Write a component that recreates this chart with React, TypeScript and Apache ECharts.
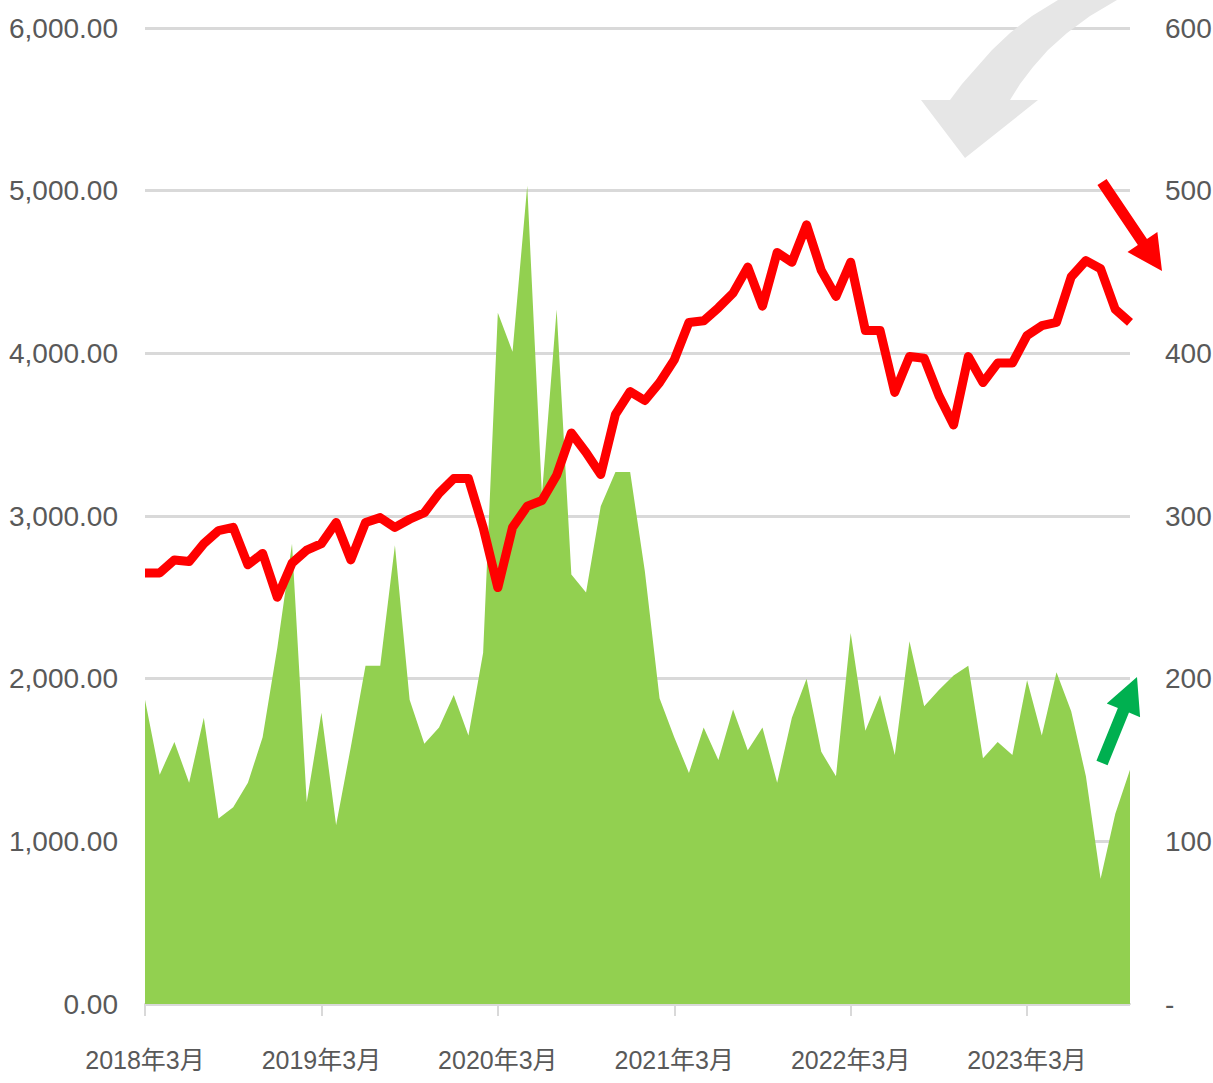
import React, { useEffect, useRef } from "react";
import * as echarts from "echarts";

// Monthly categories: 2018年3月 .. 2023年10月
const startYear = 2018;
const startMonth = 3;
const monthCount = 68;
const categories: string[] = [];
for (let i = 0; i < monthCount; i++) {
  const m = startMonth - 1 + i;
  categories.push(`${startYear + Math.floor(m / 12)}年${(m % 12) + 1}月`);
}

// Red line (left axis)
const redValues = [
  2650, 2650, 2730, 2720, 2830, 2910, 2930, 2700, 2770, 2500,
  2710, 2790, 2830, 2960, 2730, 2960, 2990, 2930, 2980, 3020,
  3140, 3230, 3230, 2930, 2560, 2930, 3060, 3095, 3250, 3510,
  3390, 3255, 3625, 3765, 3710, 3820, 3960, 4190, 4200, 4280,
  4370, 4530, 4290, 4620, 4560, 4790, 4510, 4350, 4560, 4140,
  4140, 3760, 3980, 3970, 3740, 3560, 3980, 3820, 3940, 3940,
  4110, 4170, 4190, 4470, 4570, 4520, 4270, 4190,
];

// Green area (right axis)
const greenValues = [
  187, 141, 161, 136, 176, 114, 121, 136, 164, 219,
  283, 124, 179, 110, 158, 208, 208, 282, 187, 160,
  170, 190, 165, 216, 425, 401, 503, 313, 427, 264,
  253, 306, 327, 327, 266, 188, 164, 142, 170, 150,
  181, 156, 170, 136, 176, 200, 155, 140, 228, 168,
  190, 153, 223, 183, 193, 202, 208, 151, 161, 153,
  199, 165, 204, 180, 140, 77, 117, 144,
];

const leftTicks = { min: 0, max: 6000, interval: 1000 };
const rightTicks = { min: 0, max: 600, interval: 100 };

const FONT = "'Liberation Sans', 'Noto Sans CJK SC', sans-serif";

function arrowPoints(
  tail: [number, number],
  tip: [number, number],
  shaftHalf: number,
  headLen: number,
  headHalf: number
): number[][] {
  const dx = tip[0] - tail[0];
  const dy = tip[1] - tail[1];
  const len = Math.sqrt(dx * dx + dy * dy);
  const ux = dx / len, uy = dy / len;
  const nx = -uy, ny = ux;
  const bx = tip[0] - ux * headLen, by = tip[1] - uy * headLen;
  return [
    [tail[0] + nx * shaftHalf, tail[1] + ny * shaftHalf],
    [bx + nx * shaftHalf, by + ny * shaftHalf],
    [bx + nx * headHalf, by + ny * headHalf],
    [tip[0], tip[1]],
    [bx - nx * headHalf, by - ny * headHalf],
    [bx - nx * shaftHalf, by - ny * shaftHalf],
    [tail[0] - nx * shaftHalf, tail[1] - ny * shaftHalf],
  ];
}

export default function App() {
  const ref = useRef<HTMLDivElement>(null);
  useEffect(() => {
    document.body.style.margin = "0";
    const chart = echarts.init(ref.current!, null, { renderer: "svg" });
    chart.setOption({
      animation: false,
      backgroundColor: "#ffffff",
      grid: {
        left: 145,
        right: 83,
        top: 28,
        bottom: 79,
        containLabel: false,
        outerBoundsMode: "none",
      },
      xAxis: {
        type: "category",
        data: categories,
        boundaryGap: false,
        axisLine: { show: true, lineStyle: { color: "#d9d9d9", width: 2 } },
        axisTick: { show: true, interval: 11, length: 12, lineStyle: { color: "#d9d9d9", width: 2 } },
        axisLabel: {
          interval: 11,
          color: "#595959",
          fontSize: 25,
          fontFamily: FONT,
          margin: 43,
        },
        splitLine: { show: false },
      },
      yAxis: [
        {
          type: "value",
          ...leftTicks,
          position: "left",
          axisLine: { show: false },
          axisTick: { show: false },
          axisLabel: {
            color: "#595959",
            fontSize: 28,
            fontFamily: FONT,
            margin: 27,
            formatter: (v: number) =>
              v.toLocaleString("en-US", { minimumFractionDigits: 2, maximumFractionDigits: 2 }),
          },
          splitLine: { show: true, lineStyle: { color: "#d9d9d9", width: 3 } },
        },
        {
          type: "value",
          ...rightTicks,
          position: "right",
          axisLine: { show: false },
          axisTick: { show: false },
          axisLabel: {
            color: "#595959",
            fontSize: 28,
            fontFamily: FONT,
            margin: 35,
            formatter: (v: number) => (v === 0 ? "-" : String(v)),
          },
          splitLine: { show: false },
        },
      ],
      series: [
        {
          type: "line",
          name: "area",
          yAxisIndex: 1,
          data: greenValues,
          symbol: "none",
          lineStyle: { width: 0 },
          areaStyle: { color: "#92d050", opacity: 1 },
          z: 2,
        },
        {
          type: "line",
          name: "line",
          yAxisIndex: 0,
          data: redValues,
          symbol: "none",
          lineStyle: { color: "#ff0000", width: 9, join: "round" },
          z: 3,
        },
      ],
      graphic: [
        {
          type: "polygon",
          z: 10,
          shape: {
            points: [
              [1058, 0], [1032, 16], [1010, 33], [992, 50], [977, 67], [962, 84], [950, 100],
              [921, 100], [965, 158], [1038, 100],
              [1010, 100], [1020, 84], [1033, 67], [1048, 50], [1067, 33], [1090, 16], [1117, 0],
            ],
          },
          style: { fill: "#e6e6e6" },
        },
        {
          type: "polygon",
          z: 10,
          shape: { points: arrowPoints([1102, 182], [1162, 271], 5.5, 35, 18) },
          style: { fill: "#ff0000" },
        },
        {
          type: "polygon",
          z: 10,
          shape: { points: arrowPoints([1102, 763], [1137, 677], 6, 36, 18) },
          style: { fill: "#00b050" },
        },
      ],
    });
    return () => chart.dispose();
  }, []);
  return <div ref={ref} style={{ width: 1213, height: 1083 }} />;
}
